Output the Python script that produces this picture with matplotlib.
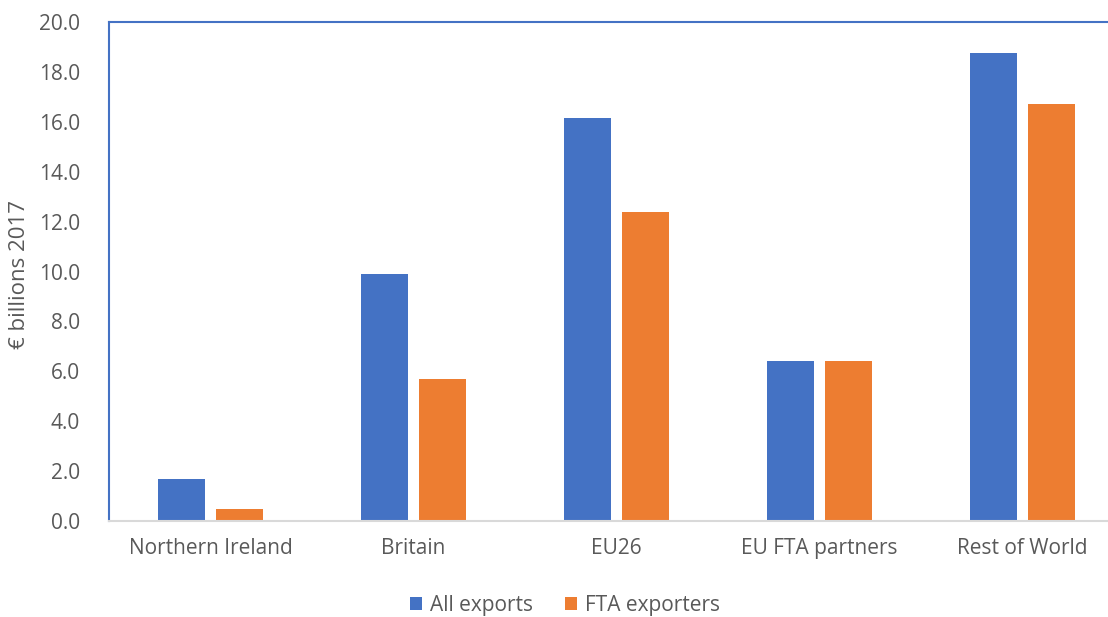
import matplotlib.pyplot as plt
import numpy as np

categories = ['Northern Ireland', 'Britain', 'EU26', 'EU FTA partners', 'Rest of World']
all_exports = [1.7, 9.9, 16.15, 6.4, 18.75]
fta_exporters = [0.5, 5.7, 12.4, 6.4, 16.7]

plt.rcParams['font.family'] = ['Open Sans', 'DejaVu Sans']
grey = '#595959'
blue = '#4472c4'
orange = '#ed7d31'
fs = 15

fig = plt.figure(figsize=(11.08, 6.17), dpi=100)
# plot area runs past the right edge in the original
ax = fig.add_axes([109/1108, 1 - 521/617, (1124 - 109)/1108, (521 - 22)/617])

x = np.arange(len(categories))
w = 0.227
ax.bar(x - 0.143, all_exports, w, color=blue, label='All exports')
ax.bar(x + 0.143, fta_exporters, w, color=orange, label='FTA exporters')

ax.set_xlim(-0.5, len(categories) - 0.5)
ax.set_ylim(0, 20)
ax.set_yticks(np.arange(0, 20.1, 2))
ax.set_yticklabels(['%.1f' % v for v in np.arange(0, 20.1, 2)])
ax.set_xticks(x)
ax.set_xticklabels(categories)
ax.tick_params(length=0, labelsize=fs, colors=grey)
ax.tick_params(axis='x', pad=12)
ax.tick_params(axis='y', pad=21)

ax.spines['left'].set_color(blue)
ax.spines['top'].set_color(blue)
ax.spines['right'].set_visible(False)
ax.spines['bottom'].set_color('#d9d9d9')
for s in ax.spines.values():
    s.set_linewidth(1.5)

fig.text(20/1108, 1 - 275/617, '€ billions 2017', rotation=90, ha='center', va='center',
         fontsize=16, color=grey)

fig.legend(loc='center', bbox_to_anchor=(565/1108, 1 - 605/617), ncol=2, frameon=False,
           fontsize=fs, labelcolor=grey, handlelength=0.6, handleheight=0.6,
           handletextpad=0.4, columnspacing=1.5)

fig.savefig('out.png', dpi=100)
